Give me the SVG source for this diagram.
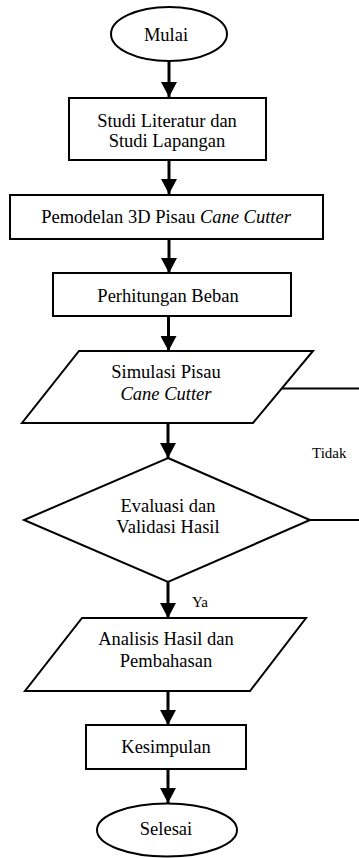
<svg xmlns="http://www.w3.org/2000/svg" width="359" height="858" viewBox="0 0 359 858">
  <defs>
    <marker id="ah" markerUnits="userSpaceOnUse" markerWidth="16" markerHeight="16" refX="15" refY="8" orient="auto">
      <path d="M0,0 L15,8 L0,16 Z" fill="#000"/>
    </marker>
    <style>
      .shape { fill: #fff; stroke: #000; stroke-width: 2; }
      text { font-family: 'Liberation Serif', 'DejaVu Serif', serif; fill: #000; }
      .t { font-size: 18.5px; text-anchor: middle; }
      .s { font-size: 15px; }
      .conn { stroke: #000; stroke-width: 3; fill: none; }
      .line { stroke: #000; stroke-width: 2; fill: none; }
    </style>
  </defs>
  <rect width="359" height="858" fill="#fff"/>

  <g id="connectors">
    <line class="conn" x1="169" y1="61" x2="169" y2="97" marker-end="url(#ah)"/>
    <line class="conn" x1="169" y1="160" x2="169" y2="194" marker-end="url(#ah)"/>
    <line class="conn" x1="169" y1="239" x2="169" y2="273" marker-end="url(#ah)"/>
    <line class="conn" x1="168.5" y1="316" x2="168.5" y2="351" marker-end="url(#ah)"/>
    <line class="conn" x1="168" y1="423" x2="168" y2="458" marker-end="url(#ah)"/>
    <line class="conn" x1="168" y1="582" x2="168" y2="618" marker-end="url(#ah)"/>
    <line class="conn" x1="168" y1="691" x2="168" y2="725" marker-end="url(#ah)"/>
    <line class="conn" x1="168" y1="769" x2="168" y2="803" marker-end="url(#ah)"/>
    <line class="line" x1="282" y1="388.5" x2="360" y2="388.5"/>
    <line class="line" x1="310" y1="520" x2="360" y2="520"/>
    <text class="s" x="312" y="458" font-family="Liberation Serif, serif">Tidak</text>
    <text class="s" x="192" y="607" font-family="Liberation Serif, serif">Ya</text>
  </g>

  <g id="mulai">
    <ellipse class="shape" cx="169" cy="34" rx="58" ry="27"/>
    <text class="t" x="166" y="41">Mulai</text>
  </g>

  <g id="studi">
    <rect class="shape" x="69" y="98" width="197" height="62"/>
    <text class="t" x="167" y="127">Studi Literatur dan</text>
    <text class="t" x="167" y="147">Studi Lapangan</text>
  </g>

  <g id="pemodelan">
    <rect class="shape" x="10" y="195" width="313" height="44"/>
    <text class="t" x="166" y="223">Pemodelan 3D Pisau <tspan font-style="italic">Cane Cutter</tspan></text>
  </g>

  <g id="perhitungan">
    <rect class="shape" x="53" y="273" width="238" height="43"/>
    <text class="t" x="168" y="302">Perhitungan Beban</text>
  </g>

  <g id="simulasi">
    <polygon class="shape" points="79,351 313,351 253,423 22,423"/>
    <text class="t" x="166" y="378">Simulasi Pisau</text>
    <text class="t" x="166" y="400" font-style="italic">Cane Cutter</text>
  </g>

  <g id="evaluasi">
    <polygon class="shape" points="168,458 310,520 168,582 24,520"/>
    <text class="t" x="168" y="512">Evaluasi dan</text>
    <text class="t" x="168" y="533">Validasi Hasil</text>
  </g>

  <g id="analisis">
    <polygon class="shape" points="82,618 306,618 250,691 25,691"/>
    <text class="t" x="166" y="645">Analisis Hasil dan</text>
    <text class="t" x="166" y="667">Pembahasan</text>
  </g>

  <g id="kesimpulan">
    <rect class="shape" x="86" y="725" width="160" height="44"/>
    <text class="t" x="166" y="753">Kesimpulan</text>
  </g>

  <g id="selesai">
    <ellipse class="shape" cx="167" cy="830" rx="70" ry="26.5"/>
    <text class="t" x="166" y="835">Selesai</text>
  </g>
</svg>
